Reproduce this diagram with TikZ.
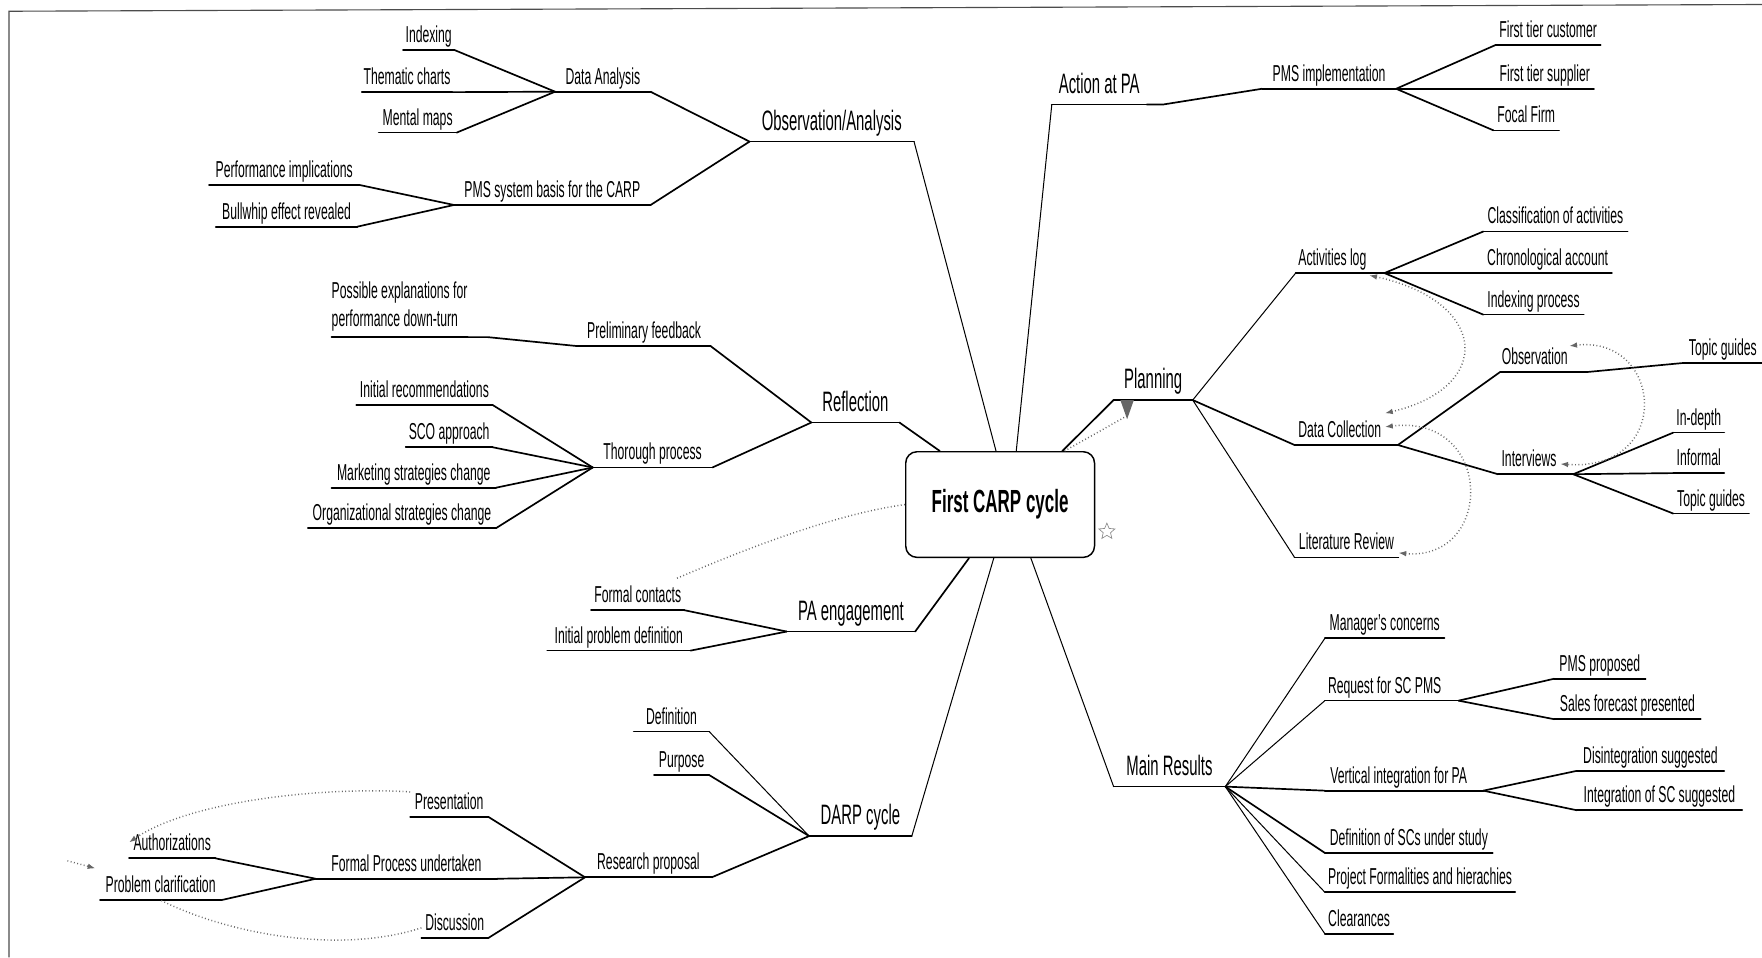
\documentclass[tikz,border=0pt]{standalone}
\usepackage{fontspec}
\setmainfont{Liberation Sans}[FakeStretch=0.53]
\usetikzlibrary{arrows.meta,shapes.geometric}

% a topic: its text sits on an underline (the node's bottom edge)
\newcommand\topicnode[6][topic]{%
  \node[#1, minimum width={(#4-#3)*1pt}] (#2) at (#3,#5) {#6};}

\begin{document}
\begin{tikzpicture}[x=1pt,y=-1pt,
  topic/.style={inner xsep=0pt, inner ysep=6.5pt, text depth=0pt,
    anchor=south west, font=\fontsize{20.5}{25}\selectfont},
  major/.style={topic, inner ysep=10pt, font=\fontsize{25}{30}\selectfont},
  uline/.style={line width=1.5pt, line cap=round},
  link/.style={line width=1.5pt, line cap=round, line join=round},
  thinlink/.style={line width=0.9pt, line cap=round, line join=round},
  rel/.style={draw=black!60, line width=1.3pt, dash pattern=on 0.8pt off 2.2pt},
  tip/.style={-{Latex[length=7pt,width=5pt]}},
  tips/.style={{Latex[length=7pt,width=5pt]}-{Latex[length=7pt,width=5pt]}},
]
\fill[white] (0,0) rectangle (1568,852);
\useasboundingbox (0,0) rectangle (1568,852);

% page frame
\draw[line width=1pt, black!70] (8,852) -- (8,10) -- (1568,4);

% central topic
\node[draw, line width=1.3pt, rounded corners=10pt, minimum width=168pt,
  minimum height=94pt, inner sep=0pt,
  font=\bfseries\fontsize{28.5}{32}\selectfont] (box) at (890,449) {First CARP cycle};
\node[star, star points=5, star point ratio=2.2, draw=black!45, line width=0.6pt,
  minimum size=15pt, inner sep=0pt] (mark) at (985,473) {};

% main branches
\topicnode[major]{obs}{667}{813}{126}{Observation/Analysis}
\topicnode[major]{refl}{722}{800}{376}{Reflection}
\topicnode[major]{pae}{700}{814}{562}{PA engagement}
\topicnode[major]{darp}{720}{811}{744}{DARP cycle}
\topicnode[major]{act}{936}{1020}{93}{Action at PA}
\topicnode[major]{plan}{991}{1061}{356}{Planning}
\topicnode[major]{mres}{991}{1090}{700}{Main Results}

% second level
\topicnode{da}{494}{578.5}{81.6}{Data Analysis}
\topicnode{pmsb}{404}{578.6}{182.4}{PMS system basis for the CARP}
\topicnode{prel}{514}{632}{308}{Preliminary feedback}
\topicnode{thor}{527.5}{633.6}{416}{Thorough process}
\topicnode{fcon}{526}{608.6}{543}{Formal contacts}
\topicnode{ipd}{487}{614}{579}{Initial problem definition}
\topicnode{defn}{564}{630.7}{651}{Definition}
\topicnode{purp}{582}{630.7}{689.7}{Purpose}
\topicnode{rprop}{520.6}{633}{780.7}{Research proposal}
\topicnode{pms}{1123}{1242}{79}{PMS implementation}
\topicnode{alog}{1153}{1218}{243}{Activities log}
\topicnode{dcol}{1152}{1232}{396}{Data Collection}
\topicnode{litr}{1152}{1244}{496}{Literature Review}
\topicnode{mgr}{1179}{1285}{568}{Manager's concerns}
\topicnode{req}{1179}{1285}{623.5}{Request for SC PMS}
\topicnode{vint}{1179}{1310}{703.6}{Vertical integration for PA}
\topicnode{dsc}{1179}{1328}{759}{Definition of SCs under study}
\topicnode{pfh}{1179}{1348}{794}{Project Formalities and hierachies}
\topicnode{clr}{1179}{1239.5}{831}{Clearances}

% third level and below
\topicnode{idx}{358.6}{404}{44.5}{Indexing}
\topicnode{thm}{322}{402}{82}{Thematic charts}
\topicnode{mm}{337}{406}{118}{Mental maps}
\topicnode{perf}{186}{319.5}{164.6}{Performance implications}
\topicnode{bull}{192}{317.6}{201.7}{Bullwhip effect revealed}
\node[topic, inner ysep=9pt] (poss) at (295,300)
  {\begin{tabular}[b]{@{}l@{}}Possible explanations for\\performance down-turn\end{tabular}};
\topicnode{initrec}{317}{438}{360.4}{Initial recommendations}
\topicnode{sco}{361}{438}{398}{SCO approach}
\topicnode{mkt}{295}{441}{434}{Marketing strategies change}
\topicnode{org}{274}{441}{470}{Organizational strategies change}
\topicnode{pres}{365}{434}{726.8}{Presentation}
\topicnode{fpu}{281}{442}{782}{Formal Process undertaken}
\topicnode{disc}{375}{434}{834.8}{Discussion}
\topicnode{auth}{114.8}{191.3}{763.8}{Authorizations}
\topicnode{prob}{89}{196.5}{801}{Problem clarification}
\topicnode{ftc}{1331}{1424}{40}{First tier customer}
\topicnode{fts}{1331}{1418}{79}{First tier supplier}
\topicnode{ff}{1329}{1387}{116}{Focal Firm}
\topicnode{cls}{1320}{1448}{206}{Classification of activities}
\topicnode{chr}{1320}{1434}{243}{Chronological account}
\topicnode{idp}{1320}{1409}{280}{Indexing process}
\topicnode{obsv}{1335}{1396}{331}{Observation}
\topicnode{tg1}{1498}{1568}{323}{Topic guides}
\topicnode{intv}{1333}{1388}{422}{Interviews}
\topicnode{indp}{1489}{1534}{385}{In-depth}
\topicnode{infm}{1489}{1534}{421}{Informal}
\topicnode{tg2}{1489}{1556}{457}{Topic guides}
\topicnode{pmsp}{1383}{1464}{604}{PMS proposed}
\topicnode{sfp}{1383}{1513}{640}{Sales forecast presented}
\topicnode{dis}{1403}{1534}{686}{Disintegration suggested}
\topicnode{isc}{1403}{1550}{721}{Integration of SC suggested}

% branching points at the end of an underline
\coordinate (actj) at (1035,93);
\coordinate (possj) at (434,300);
\coordinate (alogj) at (1232,243);
\coordinate (dcolj) at (1244,396);
\coordinate (obsvj) at (1413,331);
\coordinate (intvj) at (1400,422);
\coordinate (reqj) at (1298,623.5);
\coordinate (vintj) at (1320,703.6);

% underlines
\foreach \n in {obs,refl,pae,darp,act,plan,mres,da,pmsb,prel,thor,fcon,ipd,defn,purp,
  rprop,pms,alog,dcol,litr,mgr,req,vint,dsc,pfh,clr,idx,thm,mm,perf,bull,poss,initrec,
  sco,mkt,org,pres,fpu,disc,auth,prob,ftc,fts,ff,cls,chr,idp,obsv,tg1,intv,indp,infm,
  tg2,pmsp,sfp,dis,isc}
  \draw[uline] (\n.south west) -- (\n.south east);

% central topic to main branches
\draw[thinlink] ([xshift=81pt]box.north west) -- (obs.south east);
\draw[thinlink] ([xshift=99pt]box.north west) -- (act.south west);
\draw[link] ([xshift=31pt]box.north west) -- (refl.south east);
\draw[link] ([xshift=140pt]box.north west) -- (plan.south west);
\draw[link] ([xshift=57pt]box.south west) -- (pae.south east);
\draw[thinlink] ([xshift=79pt]box.south west) -- (darp.south east);
\draw[thinlink] ([xshift=112pt]box.south west) -- (mres.south west);

% left side
\draw[link] (obs.south west) -- (da.south east);
\draw[link] (obs.south west) -- (pmsb.south east);
\draw[link] (da.south west) -- (idx.south east);
\draw[link] (da.south west) -- (thm.south east);
\draw[link] (da.south west) -- (mm.south east);
\draw[link] (pmsb.south west) -- (perf.south east);
\draw[link] (pmsb.south west) -- (bull.south east);
\draw[link] (refl.south west) -- (prel.south east);
\draw[link] (refl.south west) -- (thor.south east);
\draw[link] (prel.south west) -- (possj) -- (poss.south east);
\draw[link] (thor.south west) -- (initrec.south east);
\draw[link] (thor.south west) -- (sco.south east);
\draw[link] (thor.south west) -- (mkt.south east);
\draw[link] (thor.south west) -- (org.south east);
\draw[link] (pae.south west) -- (fcon.south east);
\draw[link] (pae.south west) -- (ipd.south east);
\draw[thinlink] (darp.south west) -- (defn.south east);
\draw[link] (darp.south west) -- (purp.south east);
\draw[link] (darp.south west) -- (rprop.south east);
\draw[link] (rprop.south west) -- (pres.south east);
\draw[link] (rprop.south west) -- (fpu.south east);
\draw[link] (rprop.south west) -- (disc.south east);
\draw[link] (fpu.south west) -- (auth.south east);
\draw[link] (fpu.south west) -- (prob.south east);

% right side
\draw[link] (act.south east) -- (actj) -- (pms.south west);
\draw[link] (pms.south east) -- (ftc.south west);
\draw[link] (pms.south east) -- (fts.south west);
\draw[link] (pms.south east) -- (ff.south west);
\draw[thinlink] (plan.south east) -- (alog.south west);
\draw[link] (plan.south east) -- (dcol.south west);
\draw[thinlink] (plan.south east) -- (litr.south west);
\draw[link] (alog.south east) -- (alogj);
\draw[link] (alogj) -- (cls.south west);
\draw[link] (alogj) -- (chr.south west);
\draw[link] (alogj) -- (idp.south west);
\draw[link] (dcol.south east) -- (dcolj);
\draw[link] (dcolj) -- (obsv.south west);
\draw[link] (dcolj) -- (intv.south west);
\draw[link] (obsv.south east) -- (obsvj) -- (tg1.south west);
\draw[link] (intv.south east) -- (intvj);
\draw[link] (intvj) -- (indp.south west);
\draw[link] (intvj) -- (infm.south west);
\draw[link] (intvj) -- (tg2.south west);
\draw[thinlink] (mres.south east) -- (mgr.south west);
\draw[thinlink] (mres.south east) -- (req.south west);
\draw[link] (mres.south east) -- (vint.south west);
\draw[link] (mres.south east) -- (dsc.south west);
\draw[thinlink] (mres.south east) -- (pfh.south west);
\draw[thinlink] (mres.south east) -- (clr.south west);
\draw[link] (req.south east) -- (reqj);
\draw[link] (reqj) -- (pmsp.south west);
\draw[link] (reqj) -- (sfp.south west);
\draw[link] (vint.south east) -- (vintj);
\draw[link] (vintj) -- (dis.south west);
\draw[link] (vintj) -- (isc.south west);

% relationship links (dotted)
\draw[rel] (box.west) .. controls (740,458) and (660,490) .. ([xshift=-7pt]fcon.north east);
\draw[rel] ([xshift=142pt]box.north west) -- ([xshift=12pt,yshift=-14pt]plan.south west);
\fill[black!60] ([xshift=6pt]plan.south west) -- ([xshift=18pt]plan.south west)
  -- ([xshift=12pt,yshift=-17pt]plan.south west) -- cycle;
\draw[rel,tips] ([yshift=-2pt]alog.south east) .. controls (1325,268) and (1330,345) .. (dcol.north east);
\draw[rel,tips] ([yshift=2pt]dcol.east) .. controls (1330,368) and (1330,500) .. ([yshift=4pt]litr.south east);
\draw[rel,tips] ([yshift=9pt]obsv.east) .. controls (1480,298) and (1490,420) .. ([yshift=-5pt]intv.east);
\draw[rel,tip] ([yshift=8pt]pres.west) .. controls (290,700) and (170,712) .. (auth.west);
\draw[rel] ([yshift=-5pt]disc.west) .. controls (300,850) and (200,830) .. (prob.south);
\coordinate (probtail) at (60,766);
\draw[rel,tip] (probtail) -- ([xshift=-4pt]prob.north west);
\end{tikzpicture}
\end{document}
